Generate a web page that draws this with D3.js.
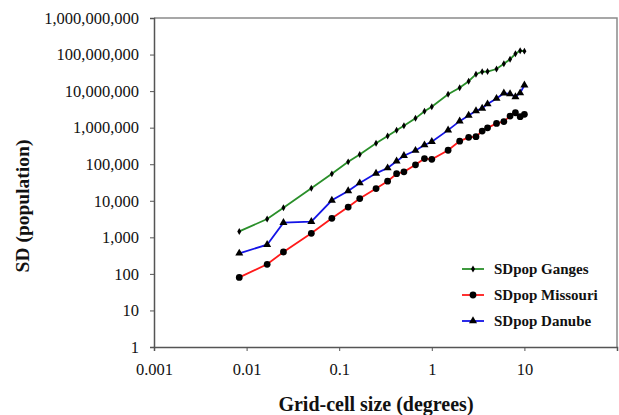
<!DOCTYPE html>
<html>
<head>
<meta charset="utf-8">
<script src="https://cdn.jsdelivr.net/npm/d3@7/dist/d3.min.js"></script>
<style>
  html, body { margin: 0; padding: 0; background: #fff; }
  svg { display: block; }
  text { font-family: "Liberation Serif", "Times New Roman", serif; fill: #111; }
</style>
</head>
<body>
<div id="chart"></div>
<script>
// Grid-cell sizes in degrees (30 arc-seconds up to 10 degrees)
const cellSizes = [0.0083333, 0.0166667, 0.025, 0.05, 0.0833333, 0.125, 0.1666667,
  0.25, 0.3333333, 0.4166667, 0.5, 0.6666667, 0.8333333, 1, 1.5, 2, 2.5, 3, 3.5,
  4, 5, 6, 7, 8, 9, 10];

// Standard deviation of population per basin
const sdGanges = [1450, 3170, 6460, 21900, 54500, 116000, 185000,
  375000, 590000, 850000, 1130000, 1800000, 2820000, 3740000, 8170000,
  12300000, 18600000, 29000000, 33900000, 34300000, 40200000, 56000000,
  74000000, 105000000, 127000000, 124000000];
const sdMissouri = [80, 183, 397, 1290, 3310, 6750, 11500,
  21600, 34300, 55000, 62000, 96300, 143000, 136000, 241000,
  428000, 544000, 565000, 809000, 989000, 1310000, 1470000,
  2080000, 2560000, 2000000, 2320000];
const sdDanube = [366, 628, 2510, 2680, 10300, 18500, 30600,
  56400, 78700, 121000, 171000, 237000, 335000, 412000, 857000,
  1510000, 2150000, 2890000, 3380000, 4430000, 6270000, 8750000,
  8420000, 6970000, 8860000, 14500000];

const seriesNames = ["SDpop Ganges", "SDpop Missouri", "SDpop Danube"];
const seriesColors = ["#2a8f2a", "#ff1a1a", "#1414e6"];
const seriesMarkers = ["diamond", "circle", "triangle"];

const xTicks = [0.001, 0.01, 0.1, 1, 10];
const yTicks = [1, 10, 100, 1000, 10000, 100000, 1000000, 10000000, 100000000, 1000000000];

const W = 619, H = 415;
const plot = { left: 154, right: 617, top: 18, bottom: 347 };

const svg = d3.select("#chart").append("svg")
  .attr("width", W).attr("height", H);

const x = d3.scaleLog().domain([0.001, 100]).range([plot.left, plot.right]);
const y = d3.scaleLog().domain([1, 1e9]).range([plot.bottom, plot.top]);

// Plot frame (top and right sides)
svg.append("path")
  .attr("d", `M${plot.left},${plot.top}H${plot.right}V${plot.bottom}`)
  .attr("fill", "none").attr("stroke", "#8a8a8a").attr("stroke-width", 1.5);

// Y axis
const yAxis = svg.append("g")
  .attr("transform", `translate(${plot.left},0)`)
  .call(d3.axisLeft(y).tickValues(yTicks).tickFormat(d3.format(",")).tickSize(4).tickPadding(11));
yAxis.select(".domain").attr("stroke", "#555").attr("stroke-width", 1.5);
yAxis.selectAll(".tick line").attr("stroke", "#555");
yAxis.selectAll(".tick text").style("font-size", "16.5px").attr("fill", "#111")
  .style("font-family", "'Liberation Serif', serif");

// X axis
const xAxis = svg.append("g")
  .attr("transform", `translate(0,${plot.bottom})`)
  .call(d3.axisBottom(x).tickValues(xTicks).tickFormat(d => String(d)).tickSize(4).tickPadding(12));
xAxis.select(".domain").attr("stroke", "#555").attr("stroke-width", 1.5);
xAxis.selectAll(".tick line").attr("stroke", "#555");
xAxis.selectAll(".tick text").style("font-size", "16.5px").attr("fill", "#111")
  .style("font-family", "'Liberation Serif', serif");

// Axis titles
svg.append("text")
  .attr("x", 376).attr("y", 411)
  .attr("text-anchor", "middle")
  .style("font-size", "20px").style("font-weight", "bold")
  .text("Grid-cell size (degrees)");

svg.append("text")
  .attr("transform", "translate(29,206) rotate(-90)")
  .attr("text-anchor", "middle")
  .style("font-size", "19.5px").style("font-weight", "bold")
  .text("SD (population)");

const allSeries = [sdGanges, sdMissouri, sdDanube];

const line = d3.line()
  .x(d => x(d[0]))
  .y(d => y(d[1]));

const symbolFor = {
  diamond: d3.symbol().type(d3.symbolDiamond).size(14),
  circle: d3.symbol().type(d3.symbolCircle).size(36),
  triangle: d3.symbol().type(d3.symbolTriangle).size(28)
};

allSeries.forEach((vals, i) => {
  const pts = cellSizes.map((c, j) => [c, vals[j]]);
  const g = svg.append("g");
  g.append("path")
    .attr("d", line(pts))
    .attr("fill", "none")
    .attr("stroke", seriesColors[i])
    .attr("stroke-width", 1.8);
  g.selectAll("path.mark")
    .data(pts)
    .join("path")
    .attr("class", "mark")
    .attr("transform", d => `translate(${x(d[0])},${y(d[1])})`)
    .attr("d", symbolFor[seriesMarkers[i]]())
    .attr("fill", "#000");
});

// Legend
const legendY = [269, 295, 321];
const legend = svg.append("g");
seriesNames.forEach((name, i) => {
  const ly = legendY[i];
  legend.append("line")
    .attr("x1", 462).attr("x2", 484).attr("y1", ly).attr("y2", ly)
    .attr("stroke", seriesColors[i]).attr("stroke-width", 1.8);
  legend.append("path")
    .attr("transform", `translate(473,${ly})`)
    .attr("d", symbolFor[seriesMarkers[i]]())
    .attr("fill", "#000");
  legend.append("text")
    .attr("x", 494).attr("y", ly + 5)
    .style("font-size", "15px").style("font-weight", "bold")
    .text(name);
});
</script>
</body>
</html>
